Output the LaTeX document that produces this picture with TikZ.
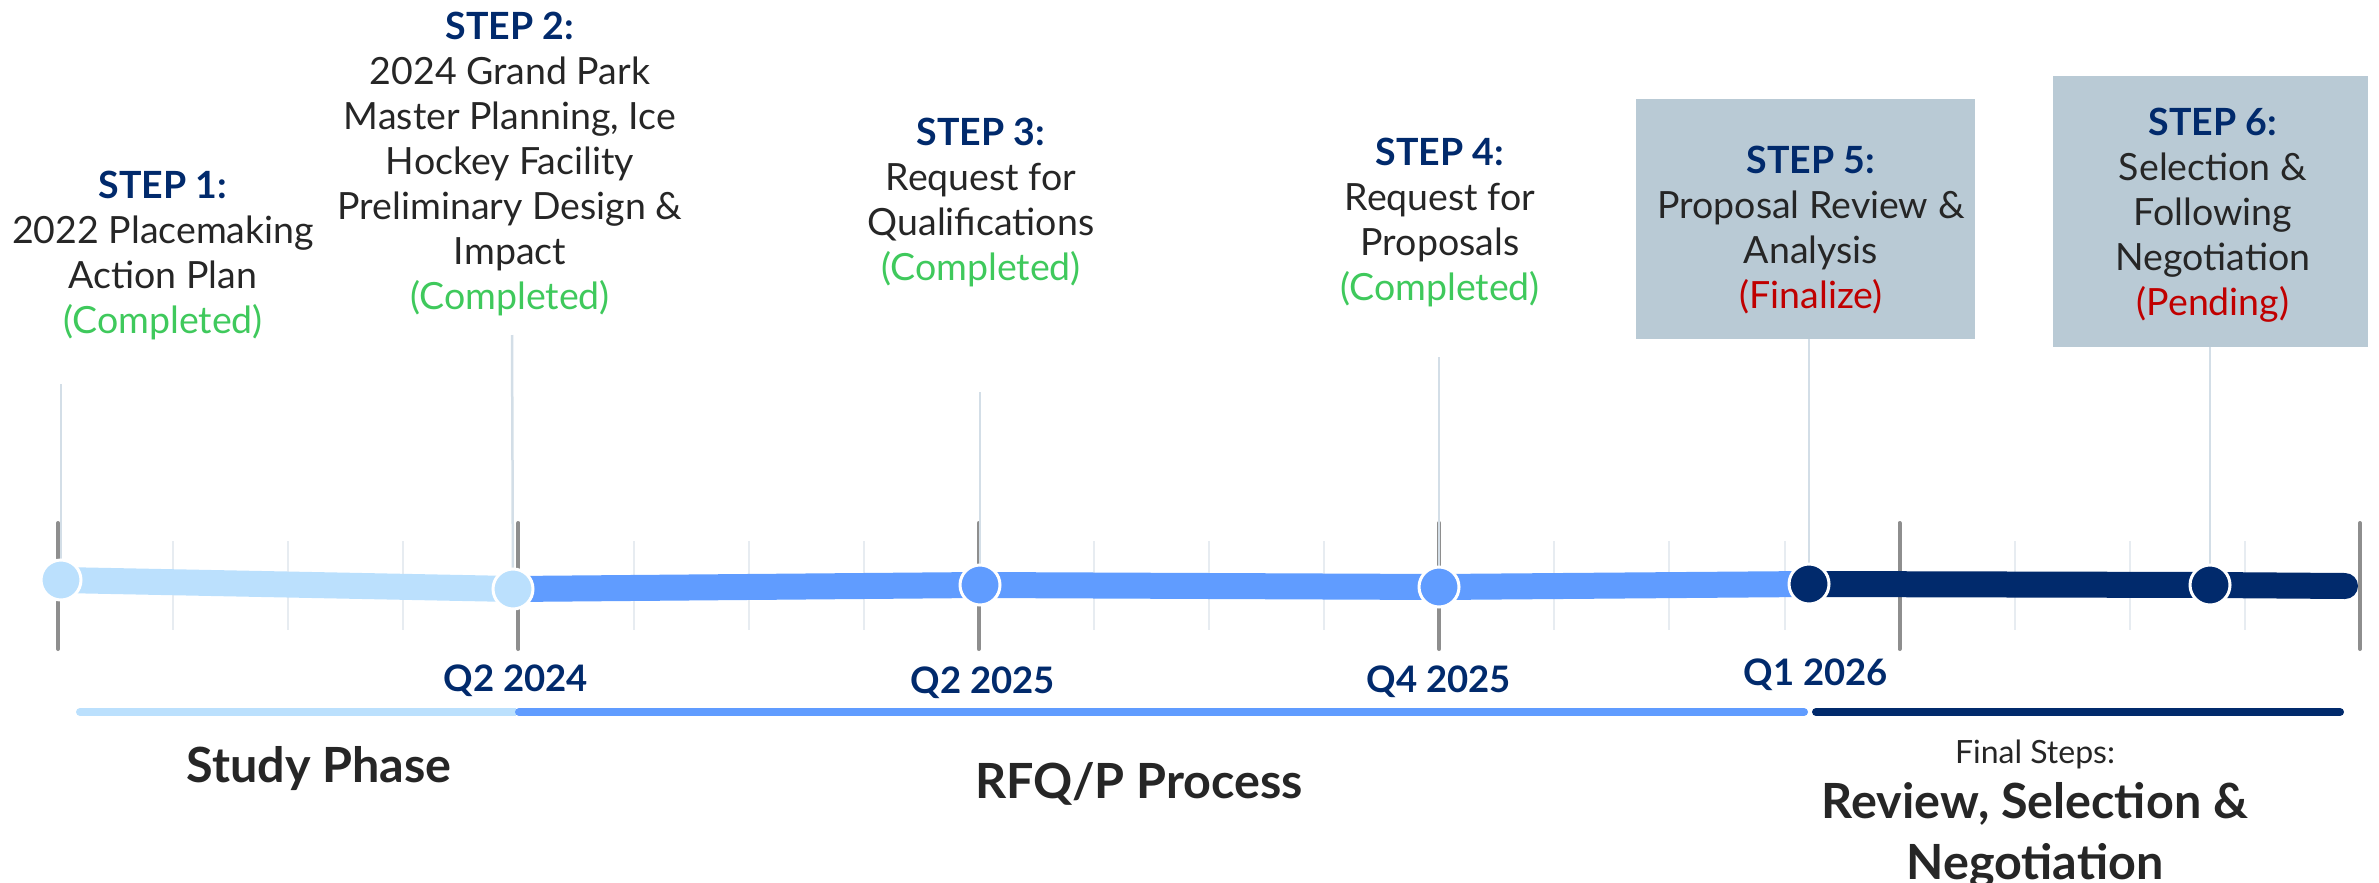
\documentclass[tikz,border=0pt]{standalone}
\usepackage{fontspec}
\setmainfont{Lato}
\definecolor{navy}{HTML}{012A6C}
\definecolor{midblue}{HTML}{609CFF}
\definecolor{lightblue}{HTML}{BBE0FD}
\definecolor{boxfill}{HTML}{B9CAD5}
\definecolor{donegreen}{HTML}{3FC95C}
\definecolor{pendred}{HTML}{C00000}
\definecolor{txt}{HTML}{262626}
\definecolor{majtick}{HTML}{8E8E8E}
\definecolor{mintick}{HTML}{E7ECF1}
\definecolor{conn}{HTML}{D3DEE7}
\begin{document}
\begin{tikzpicture}[x=1pt,y=-1pt,
  steptext/.style={align=center, inner sep=0pt, text=txt, font=\fontsize{37.5}{45}\selectfont, anchor=north},
  qlabel/.style={font=\bfseries\fontsize{36.5}{45}\selectfont, text=navy, anchor=base, inner sep=0pt},
  phaselabel/.style={font=\bfseries\fontsize{48.5}{61}\selectfont, text=txt, anchor=base, inner sep=0pt, align=center},
  dot/.style={circle, minimum size=40pt, inner sep=0pt, draw=white, line width=3pt},
  mainline/.style={line width=26pt},
  phasebar/.style={line width=8pt, line cap=round},
  majortick/.style={draw=majtick, line width=4pt, line cap=round},
  minortick/.style={draw=mintick, line width=2pt},
  connline/.style={draw=conn, line width=2.5pt},
  stepbox/.style={fill=boxfill, inner sep=0pt}
]
\useasboundingbox (0,0) rectangle (2379,883);

% grid ticks
\foreach \j in {1,...,19} \draw[minortick] ({58+115.1*\j},541) -- ({58+115.1*\j},630);
\foreach \k in {0,...,5} \draw[majortick] ({58+460.4*\k},523) -- ({58+460.4*\k},649);

% boxes for steps 5 and 6
\node[stepbox, minimum width=339pt, minimum height=240pt] (b5) at (1805.5,219) {};
\node[stepbox, minimum width=315pt, minimum height=271pt] (b6) at (2210.5,211.5) {};

% positions of the milestones
\coordinate (p1) at (61,580);
\coordinate (p2) at (513,589);
\coordinate (p3) at (980,585);
\coordinate (p4) at (1439,587);
\coordinate (p5) at (1809,584);
\coordinate (p6) at (2210,585);
\coordinate (pend) at (2345,586);

% connector free ends
\coordinate (t1) at (61,384);
\coordinate (t2) at (512,335);
\coordinate (t3) at (980,392);
\coordinate (t4) at (1439,357);

\draw[connline] (t1) -- (p1);
\draw[connline] (t2) -- (p2);
\draw[connline] (t3) -- (p3);
\draw[connline] (t4) -- (p4);
\draw[connline] (b5.south -| p5) -- (p5);
\draw[connline] (b6.south -| p6) -- (p6);

% main line
\draw[mainline, lightblue] (p1) -- (p2);
\draw[mainline, midblue] (p2) -- (p3) -- (p4) -- (p5);
\draw[mainline, navy, line cap=round] (p5) -- (p6) -- (pend);

% milestone dots
\node[dot, fill=lightblue] (c1) at (p1) {};
\node[dot, fill=lightblue] (c2) at (p2) {};
\node[dot, fill=midblue] (c3) at (p3) {};
\node[dot, fill=midblue] (c4) at (p4) {};
\node[dot, fill=navy] (c5) at (p5) {};
\node[dot, fill=navy] (c6) at (p6) {};

% step texts
\node[steptext] (s1) at (163,171) {{\bfseries\color{navy}STEP 1:}\\2022 Placemaking\\Action Plan\\{\color{donegreen}(Completed)}};
\node[steptext] (s2) at (510,12) {{\bfseries\color{navy}STEP 2:}\\2024 Grand Park\\Master Planning, Ice\\Hockey Facility\\Preliminary Design \&\\Impact\\{\color{donegreen}(Completed)}};
\node[steptext] (s3) at (981,118) {{\bfseries\color{navy}STEP 3:}\\Request for\\Qualifications\\{\color{donegreen}(Completed)}};
\node[steptext] (s4) at (1440,138) {{\bfseries\color{navy}STEP 4:}\\Request for\\Proposals\\{\color{donegreen}(Completed)}};
\node[steptext] (s5) at (1811,146) {{\bfseries\color{navy}STEP 5:}\\Proposal Review \&\\Analysis\\{\color{pendred}(Finalize)}};
\node[steptext] (s6) at (2213,108) {{\bfseries\color{navy}STEP 6:}\\Selection \&\\Following\\Negotiation\\{\color{pendred}(Pending)}};

% quarter labels
\node[qlabel] (q1) at (516,691) {Q2 2024};
\node[qlabel] (q2) at (983,693) {Q2 2025};
\node[qlabel] (q3) at (1439,692) {Q4 2025};
\node[qlabel] (q4) at (1816,685) {Q1 2026};

% phase bars
\coordinate (a1) at (80,712);
\coordinate (a2) at (516,712);
\coordinate (a3) at (519,712);
\coordinate (a4) at (1804,712);
\coordinate (a5) at (1816,712);
\coordinate (a6) at (2340,712);
\draw[phasebar, lightblue, line cap=butt] (a1) -- (a2);
\fill[lightblue] (a1) circle (4pt);
\draw[phasebar, midblue] (a3) -- (a4);
\draw[phasebar, navy] (a5) -- (a6);

% phase labels
\node[phaselabel] (ph1) at (319,782) {Study Phase};
\node[phaselabel] (ph2) at (1139,798) {RFQ/P Process};
\node[anchor=base, inner sep=0pt, text=txt, font=\fontsize{32}{40}\selectfont] (ph3a) at (2035,763) {Final Steps:};
\node[phaselabel] (ph3b) at (2035,879) {Review, Selection \&\\Negotiation};
\end{tikzpicture}
\end{document}
